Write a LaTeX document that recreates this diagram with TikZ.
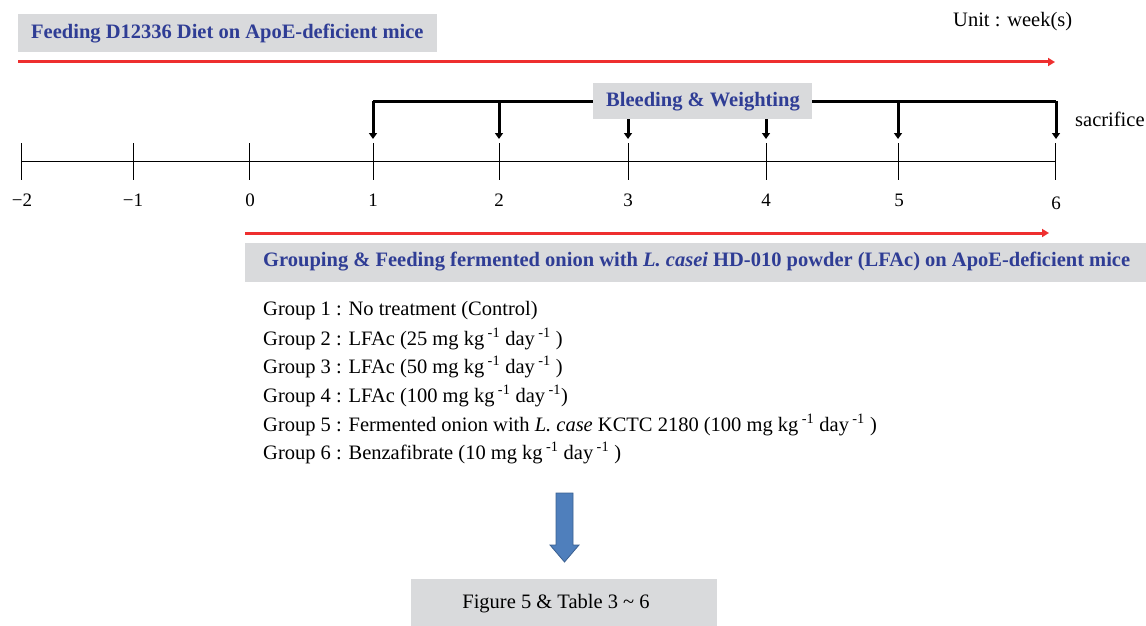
\documentclass[tikz,border=0pt]{standalone}
\usepackage{fontspec}
\setmainfont{Liberation Serif}
\usetikzlibrary{arrows.meta}
\definecolor{boxgray}{HTML}{D9DADC}
\definecolor{titleblue}{HTML}{2F3D95}
\definecolor{redline}{HTML}{EE2F2F}
\definecolor{arrowblue}{HTML}{4F7FBC}
\definecolor{arrowedge}{HTML}{3B6090}
\newcommand{\sps}[1]{\,\textsuperscript{#1}}
\tikzset{
  graybox/.style={fill=boxgray, draw=none, inner sep=0pt, anchor=north west},
  titletxt/.style={text=titleblue, font=\bfseries\fontsize{20.5}{23}\selectfont, inner sep=0pt},
  plaintxt/.style={font=\fontsize{20.5}{23}\selectfont, inner sep=0pt},
  numtxt/.style={font=\fontsize{19}{22}\selectfont, inner sep=0pt},
  redarrow/.style={draw=redline, line width=3pt, -{Triangle[length=7pt,width=8pt]}},
  droparrow/.style={draw=black, line width=3pt, -{Triangle[length=6pt,width=8pt]}},
  axis/.style={draw=black, line width=1pt},
  tick/.style={draw=black, line width=1pt},
}
\begin{document}
\begin{tikzpicture}[x=1pt,y=-1pt]
\useasboundingbox (0,0) rectangle (1146,626);

% top title
\node[graybox, minimum width=419pt, minimum height=38pt] (topbox) at (18,14) {};
\node[titletxt, anchor=west] (toptxt) at (31,34) {Feeding D12336 Diet on ApoE-deficient mice};
\node[plaintxt, anchor=west] (unit) at (953,22) {Unit : week(s)};

% red arrow 1
\coordinate (r1s) at (18,62);
\coordinate (r1e) at (1055,62);
\draw[redarrow] (r1s) -- (r1e);

% timeline
\foreach \n/\x in {m2/21, m1/133, t0/249, t1/373, t2/499, t3/628, t4/766, t5/898, t6/1055} {
  \coordinate (top\n) at (\x,143);
  \coordinate (bot\n) at (\x,180);
  \draw[tick] (top\n) -- (bot\n);
}
\draw[axis] (21,161) coordinate (axs) -- (1055,161) coordinate (axe);

\foreach \n/\x/\l in {m2/22/{−2}, m1/133/{−1}, t0/250/0, t1/373/1, t2/499/2, t3/628/3, t4/766/4, t5/899/5} {
  \node[numtxt] (lab\n) at (\x,200) {\l};
}
\node[numtxt] (labt6) at (1056,203) {6};

% bracket
\coordinate (bl) at (373,101);
\coordinate (br) at (1056,101);
\draw[draw=black, line width=3pt] (bl) -- (br);
\foreach \n/\x in {1/373, 2/499, 3/628, 4/766, 5/898, 6/1056} {
  \coordinate (ds\n) at (\x,101);
  \coordinate (de\n) at (\x,139);
  \draw[droparrow] (ds\n) -- (de\n);
}
\node[graybox, minimum width=219pt, minimum height=36pt] (bleedbox) at (593,83) {};
\node[titletxt] (bleedtxt) at (703,102) {Bleeding \& Weighting};
\node[plaintxt, anchor=west] (sacr) at (1075,119) {sacrifice};

% red arrow 2
\coordinate (r2s) at (245,233);
\coordinate (r2e) at (1049,233);
\draw[redarrow] (r2s) -- (r2e);

% grouping box
\node[graybox, minimum width=901pt, minimum height=39pt] (grpbox) at (245,243) {};
\node[titletxt, anchor=west] (grptxt) at (263,262) {Grouping \& Feeding fermented onion with \textit{L. casei} HD-010 powder (LFAc) on ApoE-deficient mice};

% groups
\node[plaintxt, anchor=west] (g1) at (263,311) {Group 1 : No treatment (Control)};
\node[plaintxt, anchor=west] (g2) at (263,339) {Group 2 : LFAc (25 mg kg\sps{-1} day\sps{-1} )};
\node[plaintxt, anchor=west] (g3) at (263,367) {Group 3 : LFAc (50 mg kg\sps{-1} day\sps{-1} )};
\node[plaintxt, anchor=west] (g4) at (263,396) {Group 4 : LFAc (100 mg kg\sps{-1} day\sps{-1})};
\node[plaintxt, anchor=west] (g5) at (263,425) {Group 5 : Fermented onion with \textit{L. case} KCTC 2180 (100 mg kg\sps{-1} day\sps{-1} )};
\node[plaintxt, anchor=west] (g6) at (263,453) {Group 6 : Benzafibrate (10 mg kg\sps{-1} day\sps{-1} )};

% blue arrow
\filldraw[fill=arrowblue, draw=arrowedge, line width=0.8pt]
  (556,493) -- (573,493) -- (573,545) -- (579,545) -- (564.5,562) -- (550,545) -- (556,545) -- cycle;

% bottom box
\node[graybox, minimum width=306pt, minimum height=47pt] (botbox) at (411,579) {};
\node[plaintxt] (bottxt) at (556,604) {Figure 5 \& Table 3 \textasciitilde{} 6};
\end{tikzpicture}
\end{document}
